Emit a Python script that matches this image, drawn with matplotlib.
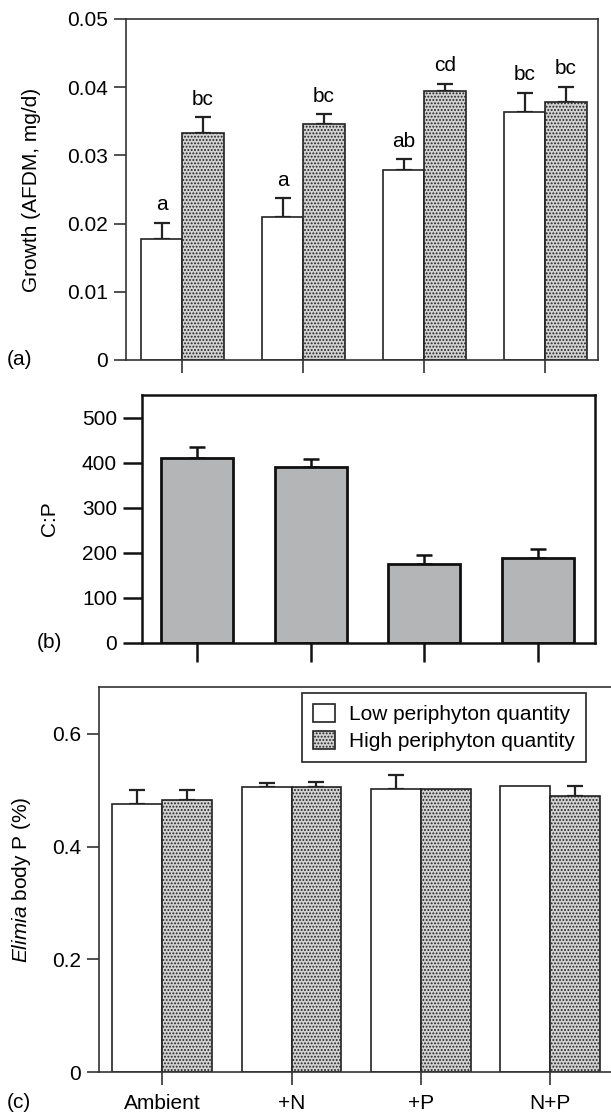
import numpy as np
import matplotlib
matplotlib.use("Agg")
import matplotlib.pyplot as plt
from matplotlib import transforms

plt.rcParams["font.family"] = ["Liberation Sans", "DejaVu Sans"]
plt.rcParams["font.size"] = 15
plt.rcParams["mathtext.fontset"] = "custom"
plt.rcParams["mathtext.it"] = "Liberation Sans:italic"
plt.rcParams["mathtext.rm"] = "Liberation Sans"
plt.rcParams["hatch.linewidth"] = 0.9

# ---------------- data ----------------
treatments = ["Ambient", "+N", "+P", "N+P"]

growth_low = [0.0178, 0.0210, 0.0278, 0.0364]
growth_low_se = [0.0023, 0.0027, 0.0016, 0.0028]
growth_high = [0.0333, 0.0346, 0.0394, 0.0378]
growth_high_se = [0.0023, 0.0014, 0.0011, 0.0023]
letters_low = ["a", "a", "ab", "bc"]
letters_high = ["bc", "bc", "cd", "bc"]

cp_ratio = [410, 390, 176, 188]
cp_se = [25, 18, 20, 20]

bodyp_low = [0.475, 0.505, 0.502, 0.508]
bodyp_low_se = [0.026, 0.007, 0.025, 0.0]
bodyp_high = [0.482, 0.505, 0.502, 0.489]
bodyp_high_se = [0.018, 0.010, 0.0, 0.018]

# ---------------- layout ----------------
W, H = 611, 1116
fig = plt.figure(figsize=(W / 100, H / 100), dpi=100)


def box(left, top, right, bottom):
    return [left / W, 1 - bottom / H, (right - left) / W, (bottom - top) / H]


ax_a = fig.add_axes(box(126, 19, 598, 360))
ax_b = fig.add_axes(box(142, 395, 594.5, 643))
ax_c = fig.add_axes(box(99.4, 687, 613, 1072))

x = np.arange(len(treatments))
STIPPLE = dict(facecolor="#d2d2d2", hatch=".....", edgecolor="#222222")


def up_errors(ax, xpos, vals, errs, lw=1.6, cap=5.5, color="#222222"):
    xpos = np.asarray(xpos, float)
    vals = np.asarray(vals, float)
    errs = np.asarray(errs, float)
    keep = errs > 0
    ax.errorbar(xpos[keep], vals[keep],
                yerr=[np.zeros(keep.sum()), errs[keep]],
                fmt="none", ecolor=color, elinewidth=lw,
                capsize=cap, capthick=lw, zorder=1)


def style_axes(ax, color, lw, tick_len):
    for s in ax.spines.values():
        s.set_color(color)
        s.set_linewidth(lw)
    ax.tick_params(direction="out", length=tick_len, width=lw,
                   color=color, pad=4)


def place_ylabel(ax, right_px):
    # right edge of the rotated label, in figure pixels
    tr = transforms.blended_transform_factory(fig.transFigure, ax.transAxes)
    ax.yaxis.set_label_coords(right_px / W, 0.5, transform=tr)


# ---------------- (a) growth ----------------
wa = 0.34
ax_a.bar(x - wa / 2, growth_low, wa, facecolor="white",
         edgecolor="#222222", linewidth=1.2, zorder=2)
ax_a.bar(x + wa / 2, growth_high, wa, linewidth=1.2, zorder=2, **STIPPLE)
up_errors(ax_a, x - wa / 2, growth_low, growth_low_se)
up_errors(ax_a, x + wa / 2, growth_high, growth_high_se)

for xi, v, e, t in zip(x - wa / 2, growth_low, growth_low_se, letters_low):
    ax_a.annotate(t, (xi, v + e), xytext=(0, 9), textcoords="offset points",
                  ha="center", va="baseline")
for xi, v, e, t in zip(x + wa / 2, growth_high, growth_high_se, letters_high):
    ax_a.annotate(t, (xi, v + e), xytext=(0, 9), textcoords="offset points",
                  ha="center", va="baseline")

ax_a.set_xlim(-0.467, 3.435)
ax_a.set_ylim(0, 0.05)
ax_a.set_yticks([0, 0.01, 0.02, 0.03, 0.04, 0.05])
ax_a.set_yticklabels(["0", "0.01", "0.02", "0.03", "0.04", "0.05"])
ax_a.set_xticks(x)
ax_a.set_xticklabels([])
style_axes(ax_a, "#333333", 1.2, 9)
ax_a.set_ylabel("Growth (AFDM, mg/d)")
place_ylabel(ax_a, 41)

# ---------------- (b) C:P ----------------
ax_b.bar(x, cp_ratio, 0.635, facecolor="#b4b5b7", edgecolor="#111111",
         linewidth=2, zorder=2)
up_errors(ax_b, x, cp_ratio, cp_se, lw=1.8, cap=5.5, color="#111111")
ax_b.set_xlim(-0.483, 3.497)
ax_b.set_ylim(0, 550)
ax_b.set_yticks([0, 100, 200, 300, 400, 500])
ax_b.set_xticks(x)
ax_b.set_xticklabels([])
style_axes(ax_b, "#111111", 1.8, 14)
ax_b.set_ylabel("C:P")
place_ylabel(ax_b, 59)

# ---------------- (c) snail body P ----------------
wc = 0.386
ax_c.bar(x - wc / 2, bodyp_low, wc, facecolor="white", edgecolor="#222222",
         linewidth=1.2, zorder=2, label="Low periphyton quantity")
ax_c.bar(x + wc / 2, bodyp_high, wc, linewidth=1.2, zorder=2,
         label="High periphyton quantity", **STIPPLE)
up_errors(ax_c, x - wc / 2, bodyp_low, bodyp_low_se)
up_errors(ax_c, x + wc / 2, bodyp_high, bodyp_high_se)
ax_c.set_xlim(-0.485, 3.485)
ax_c.set_ylim(0, 0.683)
ax_c.set_yticks([0, 0.2, 0.4, 0.6])
ax_c.set_yticklabels(["0", "0.2", "0.4", "0.6"])
ax_c.set_xticks(x)
ax_c.set_xticklabels(treatments)
style_axes(ax_c, "#333333", 1.2, 9)
ax_c.tick_params(axis="x", pad=7)
ax_c.set_ylabel(r"$\it{Elimia}$ body P (%)")
place_ylabel(ax_c, 33)

leg = ax_c.legend(loc="upper right",
                  bbox_to_anchor=(586 / W, 1 - 692.7 / H),
                  bbox_transform=fig.transFigure, borderaxespad=0,
                  fancybox=False, framealpha=1, edgecolor="#222222",
                  handlelength=1.05, handleheight=0.95, handletextpad=0.65,
                  labelspacing=0.3, borderpad=0.55)
leg.get_frame().set_linewidth(1.2)

# panel letters
for lab, px, py in [("(a)", 7, 360), ("(b)", 37, 643), ("(c)", 7, 1103)]:
    fig.text(px / W, 1 - py / H, lab, ha="left", va="center")

fig.savefig("out.png", dpi=100)
